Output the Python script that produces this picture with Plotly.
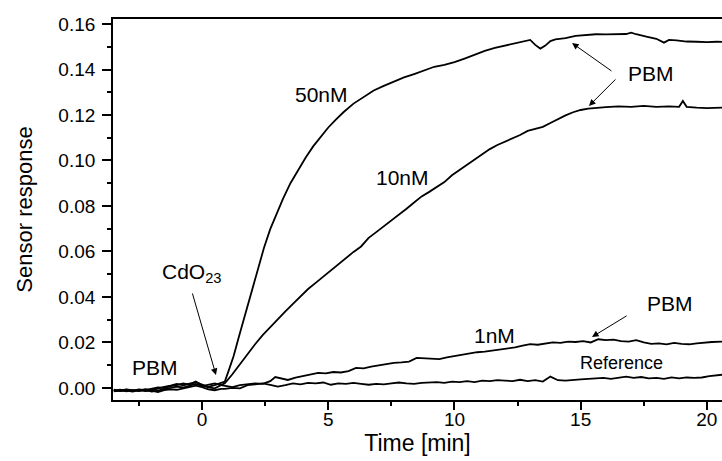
import plotly.graph_objects as go

# ---- data ----
t_base = [-3.5, -3.25, -3.0, -2.75, -2.5, -2.25, -2.0, -1.75, -1.5, -1.25,
          -1.0, -0.75, -0.5, -0.25, 0.0, 0.25, 0.5, 0.75]

base_50 = [-0.0012, -0.0008, -0.0015, -0.0010, -0.0012, -0.0005, -0.0010, -0.0002, 0.0005, 0.0010,
           0.0018, 0.0012, 0.0020, 0.0025, 0.0015, 0.0005, 0.0012, 0.0020]
base_10 = [-0.0015, -0.0010, -0.0008, -0.0012, -0.0006, -0.0010, -0.0004, 0.0002, 0.0000, 0.0008,
           0.0012, 0.0020, 0.0015, 0.0028, 0.0012, 0.0002, -0.0002, 0.0010]
base_1 = [-0.0008, -0.0012, -0.0006, -0.0010, -0.0014, -0.0008, -0.0016, -0.0012, -0.0004, 0.0000,
          0.0006, 0.0002, 0.0010, 0.0018, 0.0008, 0.0014, 0.0020, 0.0012]
base_ref = [-0.0010, -0.0014, -0.0012, -0.0016, -0.0010, -0.0014, -0.0012, -0.0018, -0.0010, -0.0006,
            -0.0008, -0.0002, 0.0004, 0.0010, 0.0004, -0.0006, -0.0010, -0.0004]

t_50 = [0.9, 1.05, 1.25, 1.45, 1.65, 1.85, 2.05, 2.25, 2.45, 2.7, 2.95, 3.2, 3.5, 3.8, 4.1, 4.4,
        4.7, 5.0, 5.3, 5.6, 6.0, 6.4, 6.8, 7.2, 7.6, 8.0, 8.4, 8.8, 9.2, 9.6, 10.0, 10.4, 10.8,
        11.2, 11.6, 12.0, 12.4, 12.8, 13.0, 13.2, 13.4, 13.6, 13.8, 14.0, 14.4, 14.8, 15.2, 15.6,
        16.0, 16.4, 16.8, 17.0, 17.2, 17.6, 18.0, 18.3, 18.5, 18.8, 19.2, 19.6, 20.0, 20.4, 20.6]
y_50 = [0.0028, 0.0075, 0.0140, 0.0222, 0.0302, 0.0383, 0.0465, 0.0545, 0.0615, 0.0698, 0.0768,
        0.0830, 0.0900, 0.0958, 0.1012, 0.1062, 0.1105, 0.1145, 0.1180, 0.1212, 0.1250, 0.1278,
        0.1308, 0.1328, 0.1348, 0.1365, 0.1380, 0.1395, 0.1412, 0.1420, 0.1432, 0.1448, 0.1465,
        0.1482, 0.1495, 0.1505, 0.1512, 0.1522, 0.1530, 0.1508, 0.1492, 0.1505, 0.1525, 0.1532,
        0.1538, 0.1548, 0.1553, 0.1555, 0.1554, 0.1556, 0.1556, 0.1562, 0.1555, 0.1545, 0.1535,
        0.1518, 0.1530, 0.1528, 0.1523, 0.1522, 0.1520, 0.1522, 0.1521]

t_10 = [0.9, 1.2, 1.5, 1.8, 2.1, 2.4, 2.7, 3.0, 3.3, 3.6, 3.9, 4.2, 4.5, 4.8, 5.1, 5.4, 5.7, 6.0,
        6.3, 6.6, 6.9, 7.2, 7.5, 7.8, 8.1, 8.4, 8.7, 9.0, 9.3, 9.6, 9.9, 10.2, 10.5, 10.8, 11.1,
        11.4, 11.7, 12.0, 12.3, 12.6, 12.9, 13.2, 13.5, 13.8, 14.1, 14.4, 14.7, 15.0, 15.3, 15.6,
        16.0, 16.5, 17.0, 17.5, 18.0, 18.5, 18.9, 19.05, 19.2, 19.6, 20.0, 20.6]
y_10 = [0.0020, 0.0060, 0.0105, 0.0150, 0.0192, 0.0232, 0.0268, 0.0303, 0.0337, 0.0370, 0.0402,
        0.0435, 0.0462, 0.0490, 0.0518, 0.0545, 0.0572, 0.0598, 0.0622, 0.0660, 0.0685, 0.0710,
        0.0735, 0.0762, 0.0788, 0.0815, 0.0842, 0.0862, 0.0882, 0.0905, 0.0935, 0.0958, 0.0980,
        0.1002, 0.1025, 0.1050, 0.1068, 0.1082, 0.1098, 0.1112, 0.1130, 0.1140, 0.1148, 0.1165,
        0.1182, 0.1198, 0.1212, 0.1222, 0.1228, 0.1232, 0.1235, 0.1238, 0.1236, 0.1240, 0.1236,
        0.1238, 0.1236, 0.1262, 0.1236, 0.1232, 0.1230, 0.1232]

t_1 = [0.9, 1.2, 1.5, 1.8, 2.1, 2.4, 2.7, 2.9, 3.1, 3.4, 3.7, 4.0, 4.3, 4.6, 4.9, 5.2, 5.5, 5.8,
       6.1, 6.4, 6.7, 7.0, 7.3, 7.6, 7.9, 8.2, 8.5, 8.8, 9.1, 9.4, 9.7, 10.0, 10.3, 10.6, 10.9,
       11.2, 11.5, 11.8, 12.1, 12.4, 12.7, 13.0, 13.3, 13.6, 13.9, 14.2, 14.5, 14.8, 15.1, 15.4,
       15.7, 16.0, 16.3, 16.6, 16.9, 17.2, 17.5, 17.8, 18.1, 18.4, 18.7, 19.0, 19.3, 19.6, 19.9,
       20.2, 20.6]
y_1 = [0.0010, 0.0004, 0.0012, 0.0016, 0.0020, 0.0018, 0.0030, 0.0048, 0.0042, 0.0035, 0.0045,
       0.0052, 0.0058, 0.0066, 0.0064, 0.0070, 0.0068, 0.0074, 0.0088, 0.0086, 0.0094, 0.0100,
       0.0106, 0.0110, 0.0112, 0.0116, 0.0132, 0.0130, 0.0128, 0.0127, 0.0134, 0.0140, 0.0146,
       0.0150, 0.0157, 0.0160, 0.0164, 0.0170, 0.0174, 0.0178, 0.0186, 0.0193, 0.0190, 0.0196,
       0.0200, 0.0198, 0.0204, 0.0202, 0.0206, 0.0200, 0.0214, 0.0210, 0.0212, 0.0206, 0.0204,
       0.0210, 0.0200, 0.0194, 0.0196, 0.0192, 0.0198, 0.0194, 0.0192, 0.0196, 0.0200, 0.0202,
       0.0204]

t_ref = [0.9, 1.2, 1.5, 1.8, 2.1, 2.4, 2.7, 3.0, 3.3, 3.6, 3.9, 4.2, 4.5, 4.8, 5.1, 5.4, 5.7,
         6.0, 6.3, 6.6, 6.9, 7.2, 7.5, 7.8, 8.1, 8.4, 8.7, 9.0, 9.3, 9.6, 9.9, 10.2, 10.5, 10.8,
         11.1, 11.4, 11.7, 12.0, 12.3, 12.6, 12.9, 13.2, 13.5, 13.8, 14.1, 14.4, 14.7, 15.0, 15.3,
         15.6, 15.9, 16.2, 16.5, 16.8, 17.1, 17.4, 17.7, 18.0, 18.3, 18.6, 18.9, 19.2, 19.5, 19.8,
         20.1, 20.4, 20.6]
y_ref = [-0.0004, 0.0000, -0.0002, 0.0012, 0.0016, 0.0020, 0.0014, 0.0006, 0.0012, 0.0020,
         0.0016, 0.0022, 0.0020, 0.0024, 0.0014, 0.0020, 0.0018, 0.0022, 0.0018, 0.0014, 0.0018,
         0.0016, 0.0020, 0.0024, 0.0020, 0.0018, 0.0022, 0.0024, 0.0026, 0.0022, 0.0028, 0.0026,
         0.0030, 0.0026, 0.0032, 0.0030, 0.0034, 0.0032, 0.0030, 0.0036, 0.0030, 0.0034, 0.0028,
         0.0050, 0.0034, 0.0032, 0.0036, 0.0038, 0.0040, 0.0042, 0.0044, 0.0040, 0.0046, 0.0050,
         0.0044, 0.0048, 0.0042, 0.0044, 0.0040, 0.0046, 0.0042, 0.0046, 0.0044, 0.0046, 0.0052,
         0.0056, 0.0058]

x_ticks = [0, 5, 10, 15, 20]
y_ticks = [0.00, 0.02, 0.04, 0.06, 0.08, 0.10, 0.12, 0.14, 0.16]
y_tick_labels = ["0.00", "0.02", "0.04", "0.06", "0.08", "0.10", "0.12", "0.14", "0.16"]

FONT = "Liberation Sans, Arial, sans-serif"

series = [
    ("Reference", t_base + t_ref, base_ref + y_ref),
    ("1nM", t_base + t_1, base_1 + y_1),
    ("10nM", t_base + t_10, base_10 + y_10),
    ("50nM", t_base + t_50, base_50 + y_50),
]

fig = go.Figure()
for name, xs, ys in series:
    fig.add_trace(go.Scatter(x=xs, y=ys, mode="lines", name=name,
                             line=dict(color="black", width=1.8), showlegend=False))

# text labels
labels = [
    ("50nM", 4.75, 0.1288, 21),
    ("10nM", 7.94, 0.0925, 21),
    ("1nM", 11.6, 0.0231, 21),
    ("Reference", 16.6, 0.0108, 18),
    ("PBM", 17.79, 0.1382, 21),
    ("PBM", 18.54, 0.0371, 21),
    ("PBM", -1.86, 0.0090, 21),
    ("CdO<sub>23</sub>", -0.40, 0.0505, 21),
]
for txt, x, y, s in labels:
    fig.add_annotation(x=x, y=y, text=txt, showarrow=False,
                       font=dict(family=FONT, size=s, color="black"))

# arrows (tail -> head)
arrows = [
    (16.28, 0.1389, 14.66, 0.1516),
    (16.44, 0.1363, 15.33, 0.1240),
    (16.88, 0.0321, 15.45, 0.0224),
    (-0.40, 0.0422, 0.55, 0.0057),
]
for ax, ay, x, y in arrows:
    fig.add_annotation(x=x, y=y, ax=ax, ay=ay, xref="x", yref="y", axref="x", ayref="y",
                       text="", showarrow=True, arrowhead=2, arrowsize=1.3,
                       arrowwidth=1, arrowcolor="black")

fig.update_layout(
    width=722, height=461,
    margin=dict(l=113, r=0, t=19, b=61),
    plot_bgcolor="white", paper_bgcolor="white",
    font=dict(family=FONT, color="black"),
)
fig.update_xaxes(
    range=[-3.53, 20.6], tickvals=x_ticks, ticks="outside", ticklen=8, tickwidth=1.5,
    minor=dict(dtick=2.5, tick0=0, ticks="outside", ticklen=4, tickwidth=1.5, tickcolor="black"),
    showline=True, linecolor="black", linewidth=1.8, mirror=True,
    showgrid=False, zeroline=False, tickcolor="black", automargin=False,
    tickfont=dict(family=FONT, size=19, color="black"), ticklabelstandoff=-7,
    title=dict(text="Time [min]", font=dict(family=FONT, size=23, color="black"), standoff=6),
)
fig.update_yaxes(
    range=[-0.0053, 0.1622], tickvals=y_ticks, ticktext=y_tick_labels,
    ticks="outside", ticklen=9, tickwidth=1.5,
    minor=dict(dtick=0.01, tick0=0, ticks="outside", ticklen=4, tickwidth=1.5, tickcolor="black"),
    showline=True, linecolor="black", linewidth=1.8, mirror=False,
    showgrid=False, zeroline=False, tickcolor="black", automargin=False,
    tickfont=dict(family=FONT, size=19, color="black"), ticklabelstandoff=3,
    title=dict(text="Sensor response", font=dict(family=FONT, size=22, color="black"), standoff=20),
)

fig.write_html(
    "out.html",
    config={"displayModeBar": False},
    post_script="document.body.style.margin='0px';document.body.style.overflow='hidden';",
)
